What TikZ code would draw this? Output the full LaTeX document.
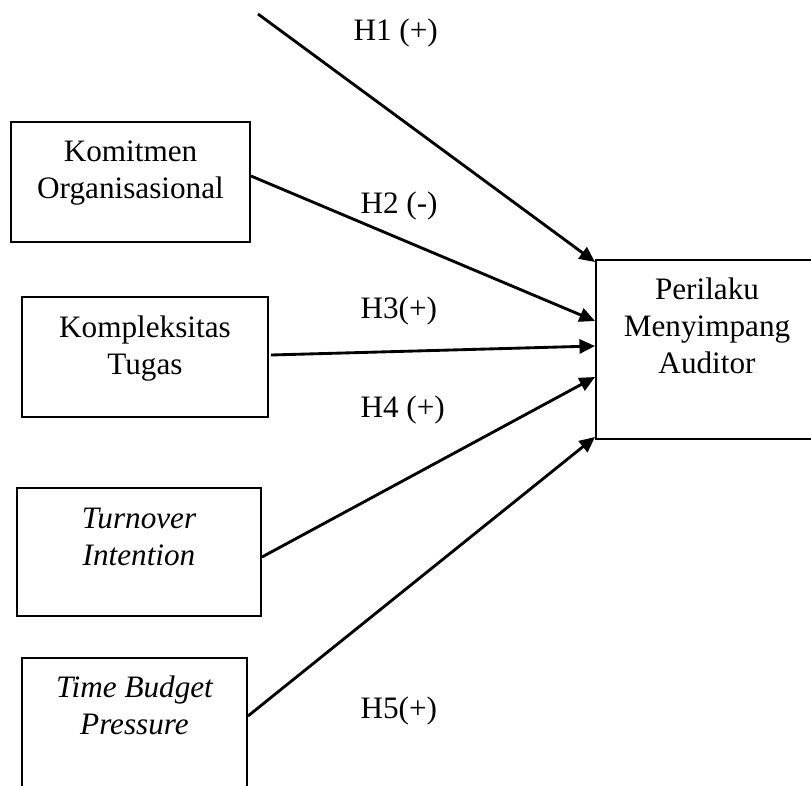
\documentclass[tikz,border=0pt]{standalone}
\usepackage{fontspec}
\setmainfont{Liberation Serif}
\usetikzlibrary{arrows.meta,fit,calc}
\begin{document}
\begin{tikzpicture}[x=0.3846pt,y=-0.3846pt,
  box/.style={draw,line width=0.75pt,inner sep=0pt,rectangle},
  txt/.style={font=\fontsize{12pt}{14.2pt}\selectfont,align=center,inner sep=0pt,anchor=base},
  itxt/.style={font=\fontsize{12pt}{14.2pt}\selectfont\itshape,align=center,inner sep=0pt,anchor=base},
  lbl/.style={font=\fontsize{12pt}{14.2pt}\selectfont,inner sep=0pt,anchor=base west},
  arr/.style={line width=1.1pt,-{Triangle[length=6pt,width=5.4pt]}}]
\useasboundingbox (0,0) rectangle (811,785);
% boxes
\node[box,fit={(11,122)(250,242)}] (kom) {};
\node[box,fit={(22,297)(268,417)}] (kpl) {};
\node[box,fit={(17,488)(261,616)}] (tur) {};
\node[box,fit={(22,658)(247,800)}] (tbp) {};
\node[box,fit={(596,260)(818,439)}] (per) {};
% texts (base anchor = baseline of the last line)
\node[txt] (komt) at (kom.north |- 0,198) {Komitmen\\Organisasional};
\node[txt] (kplt) at (kpl.north |- 0,374) {Kompleksitas\\Tugas};
\node[itxt] (turt) at (tur.north |- 0,565) {Turnover\\Intention};
\node[itxt] (tbpt) at (tbp.north |- 0,734) {Time Budget\\Pressure};
\node[txt] (pert) at (per.north |- 0,373) {Perilaku\\Menyimpang\\Auditor};
% connectors
\coordinate (h1s) at (258,14);
\draw[arr] (h1s) -- ($(per.north west)+(0,3)$);
\draw[arr] ($(kom.east)+(0,-6)$) -- ($(per.west)+(0,-28.5)$);
\draw[arr] ($(kpl.east)+(2,-2)$) -- ($(per.west)+(0,-3.5)$);
\draw[arr] ($(tur.east)+(0,5)$) -- ($(per.west)+(0,27.5)$);
\draw[arr] ($(tbp.east)+(0,-13)$) -- ($(per.south west)+(0,-3)$);
% labels
\node[lbl] (l1) at (353,41) {H1 (+)};
\node[lbl] (l2) at (360,213) {H2 (-)};
\node[lbl] (l3) at (360,318) {H3(+)};
\node[lbl] (l4) at (360,417) {H4 (+)};
\node[lbl] (l5) at (360,718) {H5(+)};
\end{tikzpicture}
\end{document}
